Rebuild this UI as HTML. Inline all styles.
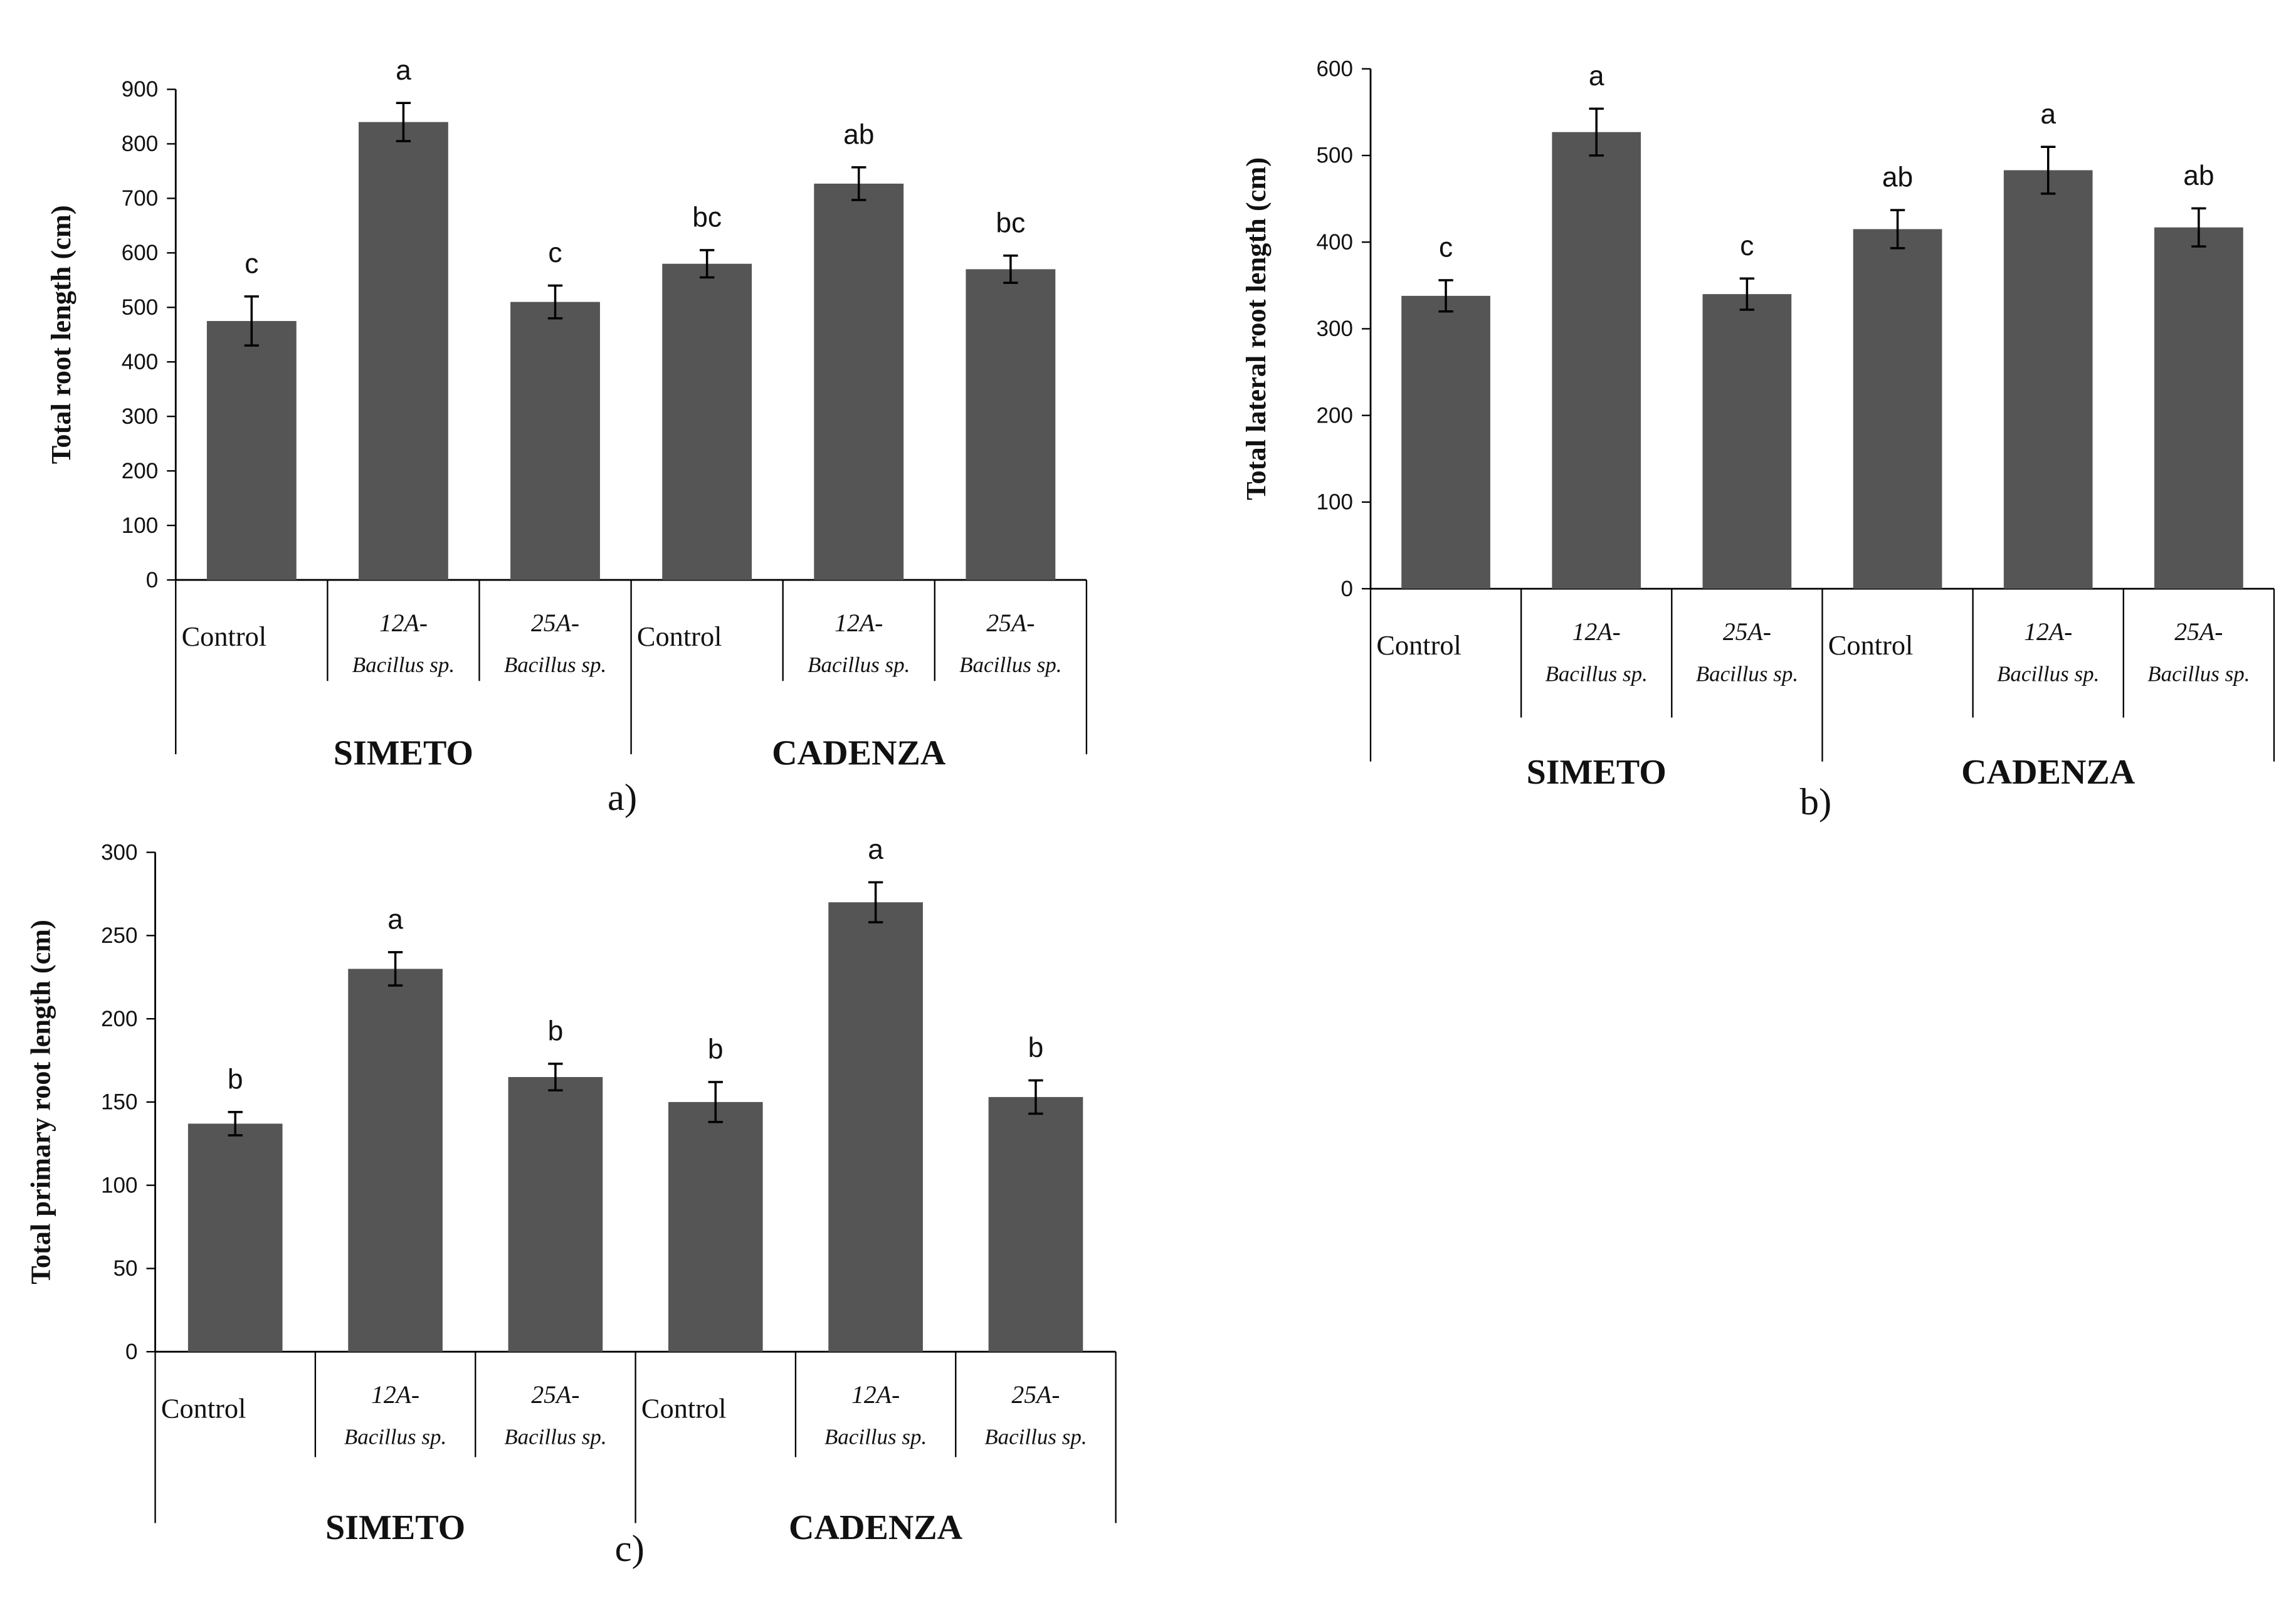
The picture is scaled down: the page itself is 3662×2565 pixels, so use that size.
<!DOCTYPE html>
<html><head><meta charset="utf-8"><style>
html,body{margin:0;padding:0;background:#fff}
svg{display:block}
text{font-family:"Liberation Serif",serif;fill:#111}
.tick{font-family:"Liberation Sans",sans-serif;font-size:15px}
.sans{font-family:"Liberation Sans",sans-serif}
</style></head><body>
<svg id="fig" width="3662" height="2565" viewBox="0 0 1568 1098" preserveAspectRatio="none" xmlns="http://www.w3.org/2000/svg"></svg>
<script>
const categories=["Control","12A-|Bacillus sp.","25A-|Bacillus sp.","Control","12A-|Bacillus sp.","25A-|Bacillus sp."];
const groups=["SIMETO","CADENZA"];
const valuesA=[475,840,510,580,727,570];
const errorsA=[45,35,30,25,30,25];
const lettersA=["c","a","c","bc","ab","bc"];
const ticksA=[0,100,200,300,400,500,600,700,800,900];
const valuesB=[338,527,340,415,483,417];
const errorsB=[18,27,18,22,27,22];
const lettersB=["c","a","c","ab","a","ab"];
const ticksB=[0,100,200,300,400,500,600];
const valuesC=[137,230,165,150,270,153];
const errorsC=[7,10,8,12,12,10];
const lettersC=["b","a","b","b","a","b"];
const ticksC=[0,50,100,150,200,250,300];

const svg=document.getElementById('fig');
const NS="http://www.w3.org/2000/svg";
function mk(tag,attrs,parent){const e=document.createElementNS(NS,tag);for(const k in attrs)e.setAttribute(k,attrs[k]);(parent||svg).appendChild(e);return e;}

function chart(cfg,values,errors,letters,ticks){
  const g=mk('g',{});
  
  
  const max=ticks[ticks.length-1];
  const y=v=>cfg.y0-(v/max)*(cfg.y0-cfg.yTop);
  const cw=(cfg.x1-cfg.x0)/values.length;
  const x=i=>cfg.x0+cw*i;
  const ya=mk('line',{x1:cfg.x0,y1:cfg.yTop,x2:cfg.x0,y2:cfg.y0,stroke:'#000','stroke-width':1.2},g);
  
  const xa=mk('line',{x1:cfg.x0,y1:cfg.y0,x2:cfg.x1,y2:cfg.y0,stroke:'#000','stroke-width':1.2},g);
  
  ticks.forEach(t=>{
    mk('line',{x1:cfg.x0-6,y1:y(t),x2:cfg.x0,y2:y(t),stroke:'#000'},g);
    const tl=mk('text',{x:cfg.x0-12,y:y(t)+5,'text-anchor':'end',class:'tick'},g);
    tl.textContent=t;
    
  });
  const yt=mk('text',{x:0,y:0,'font-size':19,'font-weight':'bold','text-anchor':'middle',transform:`translate(${cfg.x0-72},${(cfg.y0+cfg.yTop)/2}) rotate(-90)`},g);
  yt.textContent=cfg.title;
  
  for(let i=0;i<=values.length;i++){
    const long=(i%3===0);
    mk('line',{x1:x(i),y1:cfg.y0,x2:x(i),y2:long?cfg.yLong:cfg.ySep,stroke:'#000','stroke-width':1},g);
  }
  values.forEach((v,i)=>{
    const cx=x(i)+cw/2, bw=cw*0.59;
    const b=mk('rect',{x:cx-bw/2,y:y(v),width:bw,height:cfg.y0-y(v),fill:'#555555'},g);
    
    const e=errors[i];
    mk('line',{x1:cx,y1:y(v+e),x2:cx,y2:y(v-e),stroke:'#000','stroke-width':1.5},g);
    mk('line',{x1:cx-5,y1:y(v+e),x2:cx+5,y2:y(v+e),stroke:'#000','stroke-width':1.5},g);
    mk('line',{x1:cx-5,y1:y(v-e),x2:cx+5,y2:y(v-e),stroke:'#000','stroke-width':1.5},g);
    const l=mk('text',{x:cx,y:y(v+e)-16,'text-anchor':'middle','font-size':19,class:'sans'},g);
    l.textContent=letters[i];
    
    const parts=categories[i].split('|');
    if(parts.length===1){
      const t=mk('text',{x:x(i)+4,y:cfg.y0+45,'font-size':19},g);t.textContent=parts[0];
      
    }else{
      const t=mk('text',{x:cx,y:cfg.y0+35,'font-size':17,'font-style':'italic','text-anchor':'middle'},g);t.textContent=parts[0];
      
      const t2=mk('text',{x:cx,y:cfg.y0+63,'font-size':15,'font-style':'italic','text-anchor':'middle'},g);t2.textContent=parts[1];
      
    }
  });
  groups.forEach((gn,k)=>{
    const t=mk('text',{x:x(k*3)+cw*1.5,y:cfg.yGroup,'font-size':24,'font-weight':600,'text-anchor':'middle'},g);
    t.textContent=gn;
    
  });
  const p=mk('text',{x:cfg.px,y:cfg.py,'font-size':26,'text-anchor':'middle'},g);
  p.textContent=cfg.panel;
  
}
chart({name:'chart-a',x0:120,x1:742,y0:396,yTop:61,ySep:465,yLong:515,yGroup:522,px:425,py:553,panel:'a)',title:'Total root length (cm)'},valuesA,errorsA,lettersA,ticksA);
chart({name:'chart-b',x0:936,x1:1553,y0:402,yTop:47,ySep:490,yLong:520,yGroup:535,px:1240,py:556,panel:'b)',title:'Total lateral root length (cm)'},valuesB,errorsB,lettersB,ticksB);
chart({name:'chart-c',x0:106,x1:762,y0:923,yTop:582,ySep:995,yLong:1040,yGroup:1051,px:430,py:1066,panel:'c)',title:'Total primary root length (cm)'},valuesC,errorsC,lettersC,ticksC);
</script>
</body></html>
